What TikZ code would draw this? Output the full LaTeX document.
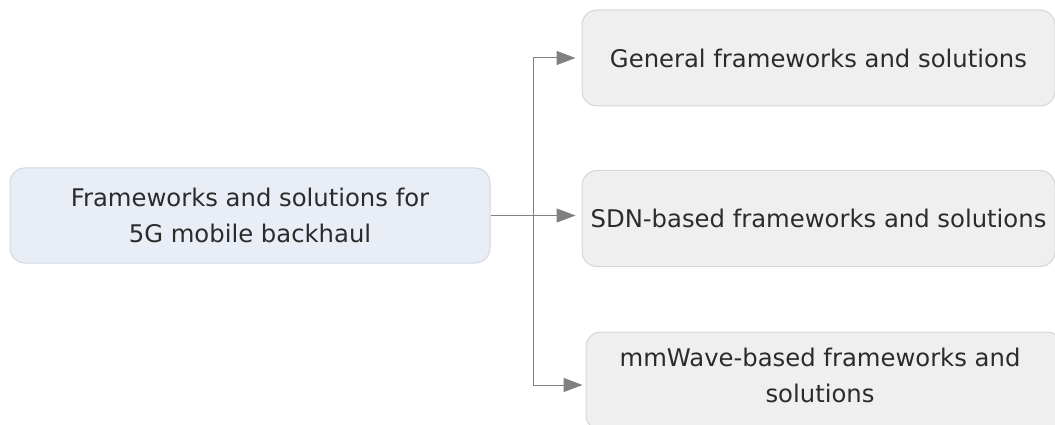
\documentclass[tikz,border=0pt]{standalone}
\usepackage{fontspec}
\setmainfont{DejaVu Sans}
\usetikzlibrary{arrows.meta}
\definecolor{bluefill}{HTML}{E9EDF6}
\definecolor{blueline}{HTML}{D2D6DE}
\definecolor{grayfill}{HTML}{EFEFEF}
\definecolor{grayline}{HTML}{D6D6D6}
\definecolor{txt}{HTML}{2B2B2B}
\definecolor{arr}{HTML}{808080}
\tikzset{
  box/.style={draw=grayline, fill=grayfill, line width=1pt, rounded corners=15pt, text=txt,
    font=\fontsize{24.3}{36}\selectfont, align=center, inner sep=0pt},
  rootbox/.style={box, draw=blueline, fill=bluefill},
  conn/.style={draw=arr, line width=1pt, -{Triangle[length=19pt,width=14pt]}}
}
\begin{document}
\begin{tikzpicture}[x=1pt,y=-1pt]
\useasboundingbox (0,0) rectangle (1055,425);
\clip (0,0) rectangle (1055,425);
\node[rootbox, minimum width=480pt, minimum height=95pt] (root) at (250,215.5) {Frameworks and solutions for\\5G mobile backhaul};
\node[box, minimum width=473pt, minimum height=96pt] (g) at (818.5,58) {General frameworks and solutions};
\node[box, minimum width=473pt, minimum height=96pt] (s) at (818.5,218.5) {SDN-based frameworks and solutions};
\node[box, minimum width=476pt, minimum height=98pt] (m) at (824,381) {};
\node[text=txt, font=\fontsize{24.3}{36}\selectfont, align=center, inner sep=0pt] (mt) at (820,375) {mmWave-based frameworks and\\solutions};
\coordinate (j) at (533,215.5);
\draw[conn] (root.east) -- ([xshift=-6pt]s.west |- root.east);
\draw[conn] (j) |- ([xshift=-6pt]g.west);
\draw[conn] (j) |- ([xshift=-3pt]m.west |- 0,385);
\end{tikzpicture}
\end{document}
